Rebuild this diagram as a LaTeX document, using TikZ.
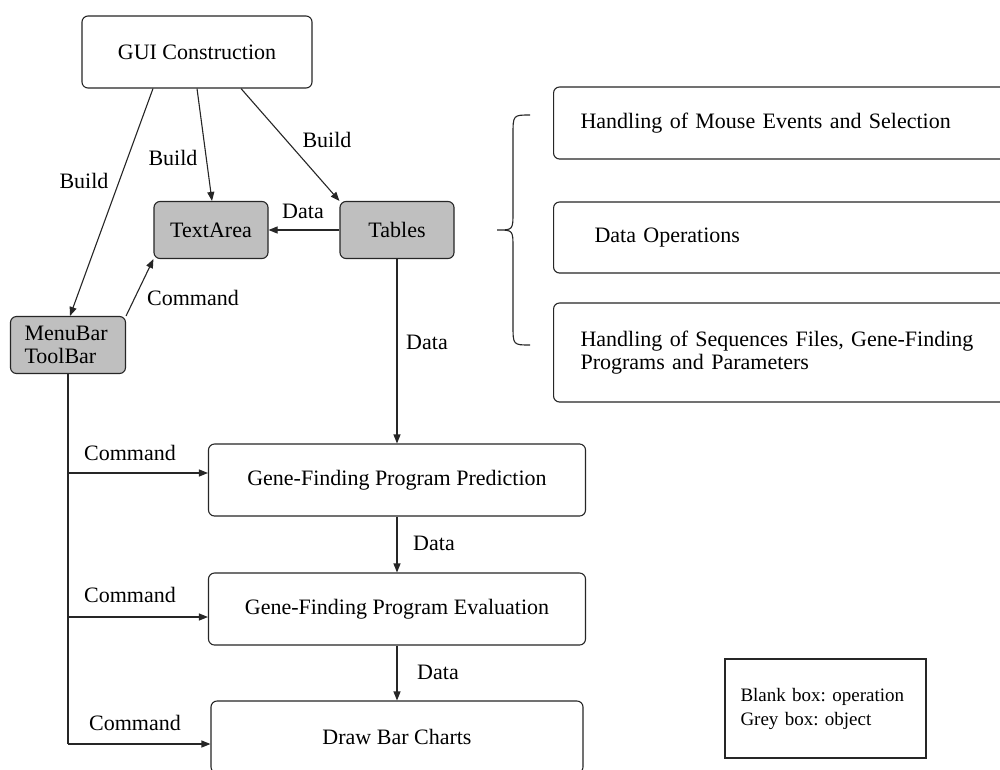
\documentclass[tikz,border=0pt]{standalone}
\usepackage{fontspec}
\setmainfont{Liberation Serif}
\usetikzlibrary{arrows.meta}
\frenchspacing
\begin{document}
\begin{tikzpicture}[x=1pt,y=-1pt,
  every node/.style={font=\fontsize{22}{23}\selectfont, text=black},
  opbox/.style={draw=black!85, line width=1.1pt, rounded corners=6pt, fill=white, inner sep=0pt},
  objbox/.style={draw=black!85, line width=1.1pt, rounded corners=6pt, fill=gray!50, inner sep=0pt, minimum width=114pt, minimum height=57pt},
  conn/.style={draw=black!85, line width=1.1pt},
  arr/.style={conn, -{Triangle[length=9pt,width=7pt]}},
  lbl/.style={inner sep=0pt}
]
\useasboundingbox (0,0) rectangle (1000,769);
\clip (0,0) rectangle (1000,769);
\fill[white] (0,0) rectangle (1000,769);

% nodes
\node[opbox, minimum width=230pt, minimum height=72pt] (gui) at (197,52) {GUI Construction};
\node[objbox] (text) at (211,230) {TextArea};
\node[objbox] (tables) at (397,230) {Tables};
\node[objbox, text width=87pt, align=left, inner xsep=14pt] (menu) at (68,345) {MenuBar\\ToolBar};

\node[opbox, minimum width=377pt, minimum height=72pt] (pred) at (397,480) {Gene-Finding Program Prediction};
\node[opbox, minimum width=377pt, minimum height=72pt] (eval) at (397,609) {Gene-Finding Program Evaluation};
\node[opbox, minimum width=372pt, minimum height=72pt] (bars) at (397,737) {Draw Bar Charts};

\node[opbox, anchor=west, text width=440pt, align=left, inner xsep=27pt, minimum height=72pt] (mouse) at (553,123) {Handling of Mouse Events and Selection};
\node[opbox, anchor=west, text width=440pt, align=left, inner xsep=27pt, minimum height=71pt] (dataop) at (553,237.5) {\hspace*{14pt}Data Operations};
\node[opbox, anchor=west, text width=440pt, align=left, inner xsep=27pt, minimum height=99pt] (seq) at (553,352.5) {Handling of Sequences Files, Gene-Finding\\Programs and Parameters};

\node[draw=black!85, line width=1.1pt, minimum width=201pt, minimum height=99pt, text width=170pt, inner xsep=15.5pt, align=left, font=\fontsize{19}{24}\selectfont] (legend) at (825.5,708.5) {Blank box: operation\\Grey box: object};

% brace
\draw[conn] (530,115) .. controls (513,115) .. (513,135) -- (513,212) .. controls (513,230) .. (497,230) .. controls (513,230) .. (513,248) -- (513,325) .. controls (513,345) .. (530,345);

% connectors
\draw[arr] ([xshift=-44pt]gui.south) -- ([xshift=2pt]menu.north);
\draw[arr] (gui.south) -- ([xshift=1pt]text.north);
\draw[arr] ([xshift=44pt]gui.south) -- (tables.north west);
\draw[arr] (tables.west) -- (text.east);
\draw[arr] (menu.north east) -- (text.south west);
\draw[arr] (tables.south) -- (pred.north);
\draw[arr] (pred.south) -- (eval.north);
\draw[arr] (eval.south) -- (bars.north);

\coordinate (j1) at (68,473);
\coordinate (j2) at (68,617);
\coordinate (j3) at (68,744);
\draw[conn] (menu.south) -- (j3);
\draw[arr] (j1) -- (pred.west |- j1);
\draw[arr] (j2) -- (eval.west |- j2);
\draw[arr] (j3) -- (bars.west |- j3);

% labels
\node[lbl] at (84,181) {Build};
\node[lbl] at (173,158) {Build};
\node[lbl] at (327,140) {Build};
\node[lbl] at (303,211) {Data};
\node[lbl] at (193,298) {Command};
\node[lbl] at (427,342) {Data};
\node[lbl] at (130,453) {Command};
\node[lbl] at (130,595) {Command};
\node[lbl] at (135,723) {Command};
\node[lbl] at (434,543) {Data};
\node[lbl] at (438,672) {Data};
\end{tikzpicture}
\end{document}
